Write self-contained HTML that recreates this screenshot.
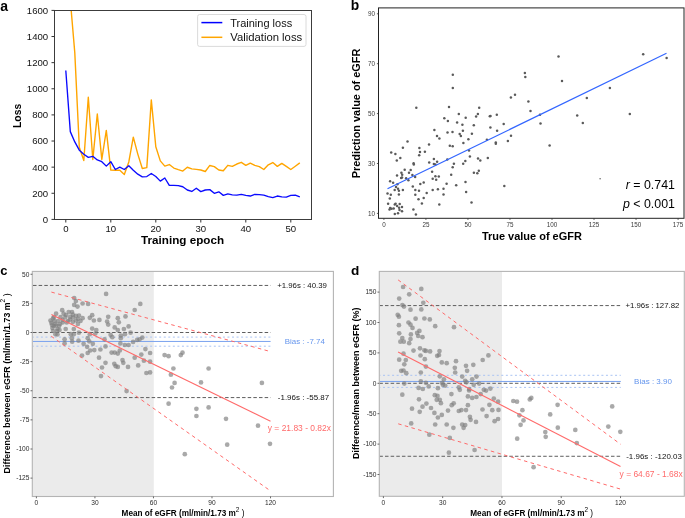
<!DOCTYPE html>
<html><head><meta charset="utf-8"><title>Figure</title>
<style>
html,body{margin:0;padding:0;background:#fff;}
body{width:685px;height:518px;overflow:hidden;}
svg{display:block;font-family:"Liberation Sans", sans-serif;will-change:transform;}
text{font-family:"Liberation Sans", sans-serif;}
</style></head>
<body>
<svg width="685" height="518" viewBox="0 0 685 518">
<rect width="685" height="518" fill="#fff"/>
<g id="pa">
<defs><clipPath id="ca"><rect x="54.5" y="10.5" width="257.0" height="209.0"/></clipPath></defs>
<g clip-path="url(#ca)">
<polyline points="65.80,-172.47 70.30,-0.18 74.80,52.85 79.30,147.30 83.80,160.49 88.30,97.27 92.80,159.44 97.30,113.99 101.80,159.44 106.30,130.44 110.80,170.15 115.30,170.29 119.80,170.29 124.30,174.47 128.80,161.93 133.30,137.11 137.80,154.09 142.30,168.46 146.80,167.67 151.30,99.88 155.80,146.77 160.30,160.88 164.80,166.11 169.30,164.54 173.80,168.06 178.30,169.63 182.80,171.07 187.30,167.28 191.80,168.85 196.30,169.37 200.80,170.02 205.30,171.46 209.80,165.45 214.30,166.63 218.80,170.02 223.30,170.81 227.80,165.32 232.30,166.37 236.80,164.02 241.30,162.32 245.80,165.32 250.30,163.10 254.80,165.32 259.30,166.63 263.80,169.50 268.30,164.80 272.80,162.58 277.30,166.37 281.80,163.36 286.30,166.37 290.80,169.50 295.30,166.24 299.80,162.84" fill="none" stroke="#ffa500" stroke-width="1.4" stroke-linejoin="round" />
<polyline points="65.80,70.49 70.30,131.62 74.80,141.94 79.30,150.17 83.80,154.22 88.30,157.35 92.80,156.31 97.30,159.97 101.80,161.66 106.30,166.11 110.80,161.66 115.30,169.50 119.80,167.15 124.30,169.50 128.80,165.71 133.30,170.29 137.80,174.20 142.30,176.82 146.80,176.56 151.30,173.55 155.80,176.56 160.30,181.13 164.80,177.99 169.30,185.31 173.80,185.31 178.30,185.57 182.80,186.74 187.30,190.01 191.80,191.45 196.30,188.31 200.80,191.58 205.30,190.01 209.80,189.62 214.30,193.28 218.80,191.84 223.30,195.37 227.80,193.93 232.30,194.84 236.80,195.10 241.30,194.32 245.80,195.37 250.30,196.02 254.80,194.32 259.30,194.58 263.80,195.10 268.30,196.54 272.80,197.59 277.30,196.02 281.80,196.93 286.30,197.06 290.80,195.37 295.30,195.23 299.80,196.93" fill="none" stroke="#0a0aff" stroke-width="1.35" stroke-linejoin="round" />
</g>
<rect x="54.5" y="10.5" width="257.0" height="209.0" fill="none" stroke="#3c3c3c" stroke-width="1"/>
<line x1="51.50" y1="219.40" x2="54.50" y2="219.40" stroke="#333" stroke-width="1" />
<text x="48.20" y="222.80" font-size="9.6" text-anchor="end" font-weight="normal" fill="#111" >0</text>
<line x1="51.50" y1="193.28" x2="54.50" y2="193.28" stroke="#333" stroke-width="1" />
<text x="48.20" y="196.68" font-size="9.6" text-anchor="end" font-weight="normal" fill="#111" >200</text>
<line x1="51.50" y1="167.15" x2="54.50" y2="167.15" stroke="#333" stroke-width="1" />
<text x="48.20" y="170.55" font-size="9.6" text-anchor="end" font-weight="normal" fill="#111" >400</text>
<line x1="51.50" y1="141.03" x2="54.50" y2="141.03" stroke="#333" stroke-width="1" />
<text x="48.20" y="144.43" font-size="9.6" text-anchor="end" font-weight="normal" fill="#111" >600</text>
<line x1="51.50" y1="114.90" x2="54.50" y2="114.90" stroke="#333" stroke-width="1" />
<text x="48.20" y="118.30" font-size="9.6" text-anchor="end" font-weight="normal" fill="#111" >800</text>
<line x1="51.50" y1="88.78" x2="54.50" y2="88.78" stroke="#333" stroke-width="1" />
<text x="48.20" y="92.18" font-size="9.6" text-anchor="end" font-weight="normal" fill="#111" >1000</text>
<line x1="51.50" y1="62.65" x2="54.50" y2="62.65" stroke="#333" stroke-width="1" />
<text x="48.20" y="66.05" font-size="9.6" text-anchor="end" font-weight="normal" fill="#111" >1200</text>
<line x1="51.50" y1="36.53" x2="54.50" y2="36.53" stroke="#333" stroke-width="1" />
<text x="48.20" y="39.93" font-size="9.6" text-anchor="end" font-weight="normal" fill="#111" >1400</text>
<line x1="51.50" y1="10.40" x2="54.50" y2="10.40" stroke="#333" stroke-width="1" />
<text x="48.20" y="13.80" font-size="9.6" text-anchor="end" font-weight="normal" fill="#111" >1600</text>
<line x1="65.80" y1="219.50" x2="65.80" y2="222.50" stroke="#333" stroke-width="1" />
<text x="65.80" y="232.20" font-size="9.6" text-anchor="middle" font-weight="normal" fill="#111" >0</text>
<line x1="110.80" y1="219.50" x2="110.80" y2="222.50" stroke="#333" stroke-width="1" />
<text x="110.80" y="232.20" font-size="9.6" text-anchor="middle" font-weight="normal" fill="#111" >10</text>
<line x1="155.80" y1="219.50" x2="155.80" y2="222.50" stroke="#333" stroke-width="1" />
<text x="155.80" y="232.20" font-size="9.6" text-anchor="middle" font-weight="normal" fill="#111" >20</text>
<line x1="200.80" y1="219.50" x2="200.80" y2="222.50" stroke="#333" stroke-width="1" />
<text x="200.80" y="232.20" font-size="9.6" text-anchor="middle" font-weight="normal" fill="#111" >30</text>
<line x1="245.80" y1="219.50" x2="245.80" y2="222.50" stroke="#333" stroke-width="1" />
<text x="245.80" y="232.20" font-size="9.6" text-anchor="middle" font-weight="normal" fill="#111" >40</text>
<line x1="290.80" y1="219.50" x2="290.80" y2="222.50" stroke="#333" stroke-width="1" />
<text x="290.80" y="232.20" font-size="9.6" text-anchor="middle" font-weight="normal" fill="#111" >50</text>
<text x="21.20" y="115.90" font-size="10.3" text-anchor="middle" font-weight="bold" fill="#000" transform="rotate(-90 21.20 115.90)" >Loss</text>
<text x="182.60" y="244.00" font-size="10.6" text-anchor="middle" font-weight="bold" fill="#000" textLength="83" lengthAdjust="spacingAndGlyphs" >Training epoch</text>
<text x="0.30" y="11.10" font-size="14" text-anchor="start" font-weight="bold" fill="#000" >a</text>
<rect x="197.6" y="14.5" width="108.4" height="31.9" rx="2" fill="#fff" stroke="#d6d6d6" stroke-width="0.9"/>
<line x1="201.40" y1="22.60" x2="222.30" y2="22.60" stroke="#0000ff" stroke-width="1.5" />
<line x1="201.40" y1="37.30" x2="222.30" y2="37.30" stroke="#ffa500" stroke-width="1.5" />
<text x="230.20" y="26.60" font-size="10" text-anchor="start" font-weight="normal" fill="#111" textLength="62" lengthAdjust="spacingAndGlyphs" >Training loss</text>
<text x="230.20" y="41.30" font-size="10" text-anchor="start" font-weight="normal" fill="#111" textLength="72" lengthAdjust="spacingAndGlyphs" >Validation loss</text>
</g>
<g id="pb">
<circle cx="396.8" cy="160.6" r="1.25" fill="#5a5a5a"/>
<circle cx="413.6" cy="163.2" r="1.25" fill="#5a5a5a"/>
<circle cx="413.8" cy="164.4" r="1.25" fill="#5a5a5a"/>
<circle cx="429.2" cy="162.5" r="1.25" fill="#5a5a5a"/>
<circle cx="433.9" cy="164.1" r="1.25" fill="#5a5a5a"/>
<circle cx="437.1" cy="161.7" r="1.25" fill="#5a5a5a"/>
<circle cx="404.7" cy="169.8" r="1.25" fill="#5a5a5a"/>
<circle cx="410.7" cy="170.1" r="1.25" fill="#5a5a5a"/>
<circle cx="401.4" cy="172.7" r="1.25" fill="#5a5a5a"/>
<circle cx="402.2" cy="174.8" r="1.25" fill="#5a5a5a"/>
<circle cx="409.0" cy="172.7" r="1.25" fill="#5a5a5a"/>
<circle cx="397.0" cy="175.4" r="1.25" fill="#5a5a5a"/>
<circle cx="412.4" cy="175.1" r="1.25" fill="#5a5a5a"/>
<circle cx="415.1" cy="177.1" r="1.25" fill="#5a5a5a"/>
<circle cx="401.1" cy="178.0" r="1.25" fill="#5a5a5a"/>
<circle cx="402.0" cy="177.4" r="1.25" fill="#5a5a5a"/>
<circle cx="406.1" cy="178.3" r="1.25" fill="#5a5a5a"/>
<circle cx="408.4" cy="180.3" r="1.25" fill="#5a5a5a"/>
<circle cx="432.1" cy="171.8" r="1.25" fill="#5a5a5a"/>
<circle cx="435.4" cy="176.2" r="1.25" fill="#5a5a5a"/>
<circle cx="438.8" cy="176.6" r="1.25" fill="#5a5a5a"/>
<circle cx="432.7" cy="178.8" r="1.25" fill="#5a5a5a"/>
<circle cx="436.2" cy="179.7" r="1.25" fill="#5a5a5a"/>
<circle cx="390.1" cy="181.2" r="1.25" fill="#5a5a5a"/>
<circle cx="393.1" cy="182.8" r="1.25" fill="#5a5a5a"/>
<circle cx="397.4" cy="184.3" r="1.25" fill="#5a5a5a"/>
<circle cx="420.3" cy="184.0" r="1.25" fill="#5a5a5a"/>
<circle cx="423.7" cy="182.6" r="1.25" fill="#5a5a5a"/>
<circle cx="396.0" cy="187.0" r="1.25" fill="#5a5a5a"/>
<circle cx="412.8" cy="186.6" r="1.25" fill="#5a5a5a"/>
<circle cx="398.0" cy="188.7" r="1.25" fill="#5a5a5a"/>
<circle cx="394.7" cy="190.1" r="1.25" fill="#5a5a5a"/>
<circle cx="398.9" cy="190.7" r="1.25" fill="#5a5a5a"/>
<circle cx="402.9" cy="189.9" r="1.25" fill="#5a5a5a"/>
<circle cx="415.3" cy="190.1" r="1.25" fill="#5a5a5a"/>
<circle cx="419.0" cy="190.7" r="1.25" fill="#5a5a5a"/>
<circle cx="432.7" cy="190.1" r="1.25" fill="#5a5a5a"/>
<circle cx="437.9" cy="189.2" r="1.25" fill="#5a5a5a"/>
<circle cx="387.5" cy="193.6" r="1.25" fill="#5a5a5a"/>
<circle cx="390.8" cy="194.8" r="1.25" fill="#5a5a5a"/>
<circle cx="398.9" cy="194.4" r="1.25" fill="#5a5a5a"/>
<circle cx="415.3" cy="194.8" r="1.25" fill="#5a5a5a"/>
<circle cx="426.7" cy="193.0" r="1.25" fill="#5a5a5a"/>
<circle cx="389.8" cy="198.6" r="1.25" fill="#5a5a5a"/>
<circle cx="418.5" cy="199.2" r="1.25" fill="#5a5a5a"/>
<circle cx="423.7" cy="198.0" r="1.25" fill="#5a5a5a"/>
<circle cx="388.1" cy="203.8" r="1.25" fill="#5a5a5a"/>
<circle cx="394.8" cy="204.4" r="1.25" fill="#5a5a5a"/>
<circle cx="395.6" cy="203.8" r="1.25" fill="#5a5a5a"/>
<circle cx="399.7" cy="204.0" r="1.25" fill="#5a5a5a"/>
<circle cx="421.9" cy="203.4" r="1.25" fill="#5a5a5a"/>
<circle cx="439.3" cy="204.4" r="1.25" fill="#5a5a5a"/>
<circle cx="397.1" cy="206.1" r="1.25" fill="#5a5a5a"/>
<circle cx="402.0" cy="206.9" r="1.25" fill="#5a5a5a"/>
<circle cx="390.2" cy="208.1" r="1.25" fill="#5a5a5a"/>
<circle cx="391.6" cy="208.7" r="1.25" fill="#5a5a5a"/>
<circle cx="393.7" cy="208.4" r="1.25" fill="#5a5a5a"/>
<circle cx="389.5" cy="209.6" r="1.25" fill="#5a5a5a"/>
<circle cx="399.1" cy="207.7" r="1.25" fill="#5a5a5a"/>
<circle cx="399.5" cy="210.0" r="1.25" fill="#5a5a5a"/>
<circle cx="402.0" cy="211.3" r="1.25" fill="#5a5a5a"/>
<circle cx="413.4" cy="209.6" r="1.25" fill="#5a5a5a"/>
<circle cx="394.8" cy="213.9" r="1.25" fill="#5a5a5a"/>
<circle cx="398.0" cy="213.3" r="1.25" fill="#5a5a5a"/>
<circle cx="415.9" cy="214.4" r="1.25" fill="#5a5a5a"/>
<circle cx="465.3" cy="160.9" r="1.25" fill="#5a5a5a"/>
<circle cx="480.3" cy="160.6" r="1.25" fill="#5a5a5a"/>
<circle cx="453.9" cy="163.8" r="1.25" fill="#5a5a5a"/>
<circle cx="463.2" cy="163.8" r="1.25" fill="#5a5a5a"/>
<circle cx="452.7" cy="167.2" r="1.25" fill="#5a5a5a"/>
<circle cx="473.9" cy="172.7" r="1.25" fill="#5a5a5a"/>
<circle cx="478.8" cy="170.7" r="1.25" fill="#5a5a5a"/>
<circle cx="477.3" cy="173.3" r="1.25" fill="#5a5a5a"/>
<circle cx="451.2" cy="174.8" r="1.25" fill="#5a5a5a"/>
<circle cx="446.6" cy="183.7" r="1.25" fill="#5a5a5a"/>
<circle cx="456.2" cy="185.3" r="1.25" fill="#5a5a5a"/>
<circle cx="465.5" cy="182.0" r="1.25" fill="#5a5a5a"/>
<circle cx="443.5" cy="188.7" r="1.25" fill="#5a5a5a"/>
<circle cx="443.5" cy="194.5" r="1.25" fill="#5a5a5a"/>
<circle cx="466.1" cy="191.9" r="1.25" fill="#5a5a5a"/>
<circle cx="471.5" cy="202.6" r="1.25" fill="#5a5a5a"/>
<circle cx="416.3" cy="107.8" r="1.25" fill="#5a5a5a"/>
<circle cx="434.4" cy="129.9" r="1.25" fill="#5a5a5a"/>
<circle cx="437.0" cy="135.9" r="1.25" fill="#5a5a5a"/>
<circle cx="439.4" cy="138.5" r="1.25" fill="#5a5a5a"/>
<circle cx="407.5" cy="141.5" r="1.25" fill="#5a5a5a"/>
<circle cx="429.0" cy="144.6" r="1.25" fill="#5a5a5a"/>
<circle cx="402.9" cy="147.8" r="1.25" fill="#5a5a5a"/>
<circle cx="419.4" cy="148.1" r="1.25" fill="#5a5a5a"/>
<circle cx="420.0" cy="151.9" r="1.25" fill="#5a5a5a"/>
<circle cx="424.9" cy="151.8" r="1.25" fill="#5a5a5a"/>
<circle cx="391.2" cy="152.4" r="1.25" fill="#5a5a5a"/>
<circle cx="395.4" cy="154.0" r="1.25" fill="#5a5a5a"/>
<circle cx="419.2" cy="155.3" r="1.25" fill="#5a5a5a"/>
<circle cx="400.3" cy="157.9" r="1.25" fill="#5a5a5a"/>
<circle cx="433.9" cy="159.1" r="1.25" fill="#5a5a5a"/>
<circle cx="449.0" cy="107.0" r="1.25" fill="#5a5a5a"/>
<circle cx="479.2" cy="107.8" r="1.25" fill="#5a5a5a"/>
<circle cx="458.8" cy="113.9" r="1.25" fill="#5a5a5a"/>
<circle cx="477.9" cy="114.1" r="1.25" fill="#5a5a5a"/>
<circle cx="476.1" cy="116.6" r="1.25" fill="#5a5a5a"/>
<circle cx="489.8" cy="116.2" r="1.25" fill="#5a5a5a"/>
<circle cx="490.5" cy="116.0" r="1.25" fill="#5a5a5a"/>
<circle cx="496.8" cy="114.8" r="1.25" fill="#5a5a5a"/>
<circle cx="444.3" cy="118.2" r="1.25" fill="#5a5a5a"/>
<circle cx="465.7" cy="117.7" r="1.25" fill="#5a5a5a"/>
<circle cx="447.9" cy="121.1" r="1.25" fill="#5a5a5a"/>
<circle cx="457.1" cy="122.4" r="1.25" fill="#5a5a5a"/>
<circle cx="462.4" cy="124.8" r="1.25" fill="#5a5a5a"/>
<circle cx="473.8" cy="125.3" r="1.25" fill="#5a5a5a"/>
<circle cx="490.4" cy="127.6" r="1.25" fill="#5a5a5a"/>
<circle cx="462.9" cy="130.7" r="1.25" fill="#5a5a5a"/>
<circle cx="497.1" cy="130.7" r="1.25" fill="#5a5a5a"/>
<circle cx="447.5" cy="132.4" r="1.25" fill="#5a5a5a"/>
<circle cx="452.5" cy="131.9" r="1.25" fill="#5a5a5a"/>
<circle cx="459.7" cy="133.9" r="1.25" fill="#5a5a5a"/>
<circle cx="460.9" cy="136.1" r="1.25" fill="#5a5a5a"/>
<circle cx="471.9" cy="133.8" r="1.25" fill="#5a5a5a"/>
<circle cx="468.4" cy="139.2" r="1.25" fill="#5a5a5a"/>
<circle cx="486.9" cy="139.7" r="1.25" fill="#5a5a5a"/>
<circle cx="463.4" cy="142.9" r="1.25" fill="#5a5a5a"/>
<circle cx="495.8" cy="142.6" r="1.25" fill="#5a5a5a"/>
<circle cx="495.8" cy="143.8" r="1.25" fill="#5a5a5a"/>
<circle cx="449.8" cy="145.8" r="1.25" fill="#5a5a5a"/>
<circle cx="452.7" cy="146.3" r="1.25" fill="#5a5a5a"/>
<circle cx="469.0" cy="150.4" r="1.25" fill="#5a5a5a"/>
<circle cx="469.9" cy="156.4" r="1.25" fill="#5a5a5a"/>
<circle cx="478.0" cy="158.5" r="1.25" fill="#5a5a5a"/>
<circle cx="487.8" cy="157.9" r="1.25" fill="#5a5a5a"/>
<circle cx="528.4" cy="101.4" r="1.25" fill="#5a5a5a"/>
<circle cx="530.5" cy="111.0" r="1.25" fill="#5a5a5a"/>
<circle cx="540.0" cy="114.8" r="1.25" fill="#5a5a5a"/>
<circle cx="503.7" cy="124.1" r="1.25" fill="#5a5a5a"/>
<circle cx="540.5" cy="123.5" r="1.25" fill="#5a5a5a"/>
<circle cx="511.0" cy="135.7" r="1.25" fill="#5a5a5a"/>
<circle cx="507.9" cy="141.1" r="1.25" fill="#5a5a5a"/>
<circle cx="549.6" cy="145.4" r="1.25" fill="#5a5a5a"/>
<circle cx="504.3" cy="186.1" r="1.25" fill="#5a5a5a"/>
<circle cx="452.8" cy="74.8" r="1.25" fill="#5a5a5a"/>
<circle cx="452.8" cy="87.9" r="1.25" fill="#5a5a5a"/>
<circle cx="515.0" cy="94.7" r="1.25" fill="#5a5a5a"/>
<circle cx="510.9" cy="97.6" r="1.25" fill="#5a5a5a"/>
<circle cx="558.5" cy="56.4" r="1.25" fill="#5a5a5a"/>
<circle cx="524.9" cy="72.9" r="1.25" fill="#5a5a5a"/>
<circle cx="525.3" cy="77.1" r="1.25" fill="#5a5a5a"/>
<circle cx="562.0" cy="80.9" r="1.25" fill="#5a5a5a"/>
<circle cx="586.8" cy="98.0" r="1.25" fill="#5a5a5a"/>
<circle cx="643.2" cy="54.2" r="1.25" fill="#5a5a5a"/>
<circle cx="666.6" cy="58.0" r="1.25" fill="#5a5a5a"/>
<circle cx="609.9" cy="88.0" r="1.25" fill="#5a5a5a"/>
<circle cx="447.3" cy="159.4" r="1.25" fill="#5a5a5a"/>
<circle cx="435.4" cy="164.4" r="1.25" fill="#5a5a5a"/>
<circle cx="577.2" cy="115.4" r="1.25" fill="#5a5a5a"/>
<circle cx="582.8" cy="123.0" r="1.25" fill="#5a5a5a"/>
<circle cx="629.8" cy="114.0" r="1.25" fill="#5a5a5a"/>
<circle cx="600.1" cy="178.8" r="0.7" fill="#555"/>
<line x1="387.50" y1="188.80" x2="666.50" y2="53.30" stroke="#3366ff" stroke-width="1.2" />
<rect x="378.5" y="7.9" width="305.5" height="210.4" fill="none" stroke="#222" stroke-width="1"/>
<line x1="376.90" y1="213.40" x2="378.50" y2="213.40" stroke="#333" stroke-width="0.8" />
<text x="375.00" y="215.70" font-size="6.3" text-anchor="end" font-weight="normal" fill="#3a3a3a" >10</text>
<line x1="376.90" y1="163.50" x2="378.50" y2="163.50" stroke="#333" stroke-width="0.8" />
<text x="375.00" y="165.80" font-size="6.3" text-anchor="end" font-weight="normal" fill="#3a3a3a" >30</text>
<line x1="376.90" y1="113.60" x2="378.50" y2="113.60" stroke="#333" stroke-width="0.8" />
<text x="375.00" y="115.90" font-size="6.3" text-anchor="end" font-weight="normal" fill="#3a3a3a" >50</text>
<line x1="376.90" y1="63.70" x2="378.50" y2="63.70" stroke="#333" stroke-width="0.8" />
<text x="375.00" y="66.00" font-size="6.3" text-anchor="end" font-weight="normal" fill="#3a3a3a" >70</text>
<line x1="376.90" y1="13.80" x2="378.50" y2="13.80" stroke="#333" stroke-width="0.8" />
<text x="375.00" y="16.10" font-size="6.3" text-anchor="end" font-weight="normal" fill="#3a3a3a" >90</text>
<line x1="383.90" y1="218.30" x2="383.90" y2="219.90" stroke="#333" stroke-width="0.8" />
<text x="383.90" y="226.80" font-size="6.3" text-anchor="middle" font-weight="normal" fill="#3a3a3a" >0</text>
<line x1="425.92" y1="218.30" x2="425.92" y2="219.90" stroke="#333" stroke-width="0.8" />
<text x="425.92" y="226.80" font-size="6.3" text-anchor="middle" font-weight="normal" fill="#3a3a3a" >25</text>
<line x1="467.95" y1="218.30" x2="467.95" y2="219.90" stroke="#333" stroke-width="0.8" />
<text x="467.95" y="226.80" font-size="6.3" text-anchor="middle" font-weight="normal" fill="#3a3a3a" >50</text>
<line x1="509.97" y1="218.30" x2="509.97" y2="219.90" stroke="#333" stroke-width="0.8" />
<text x="509.97" y="226.80" font-size="6.3" text-anchor="middle" font-weight="normal" fill="#3a3a3a" >75</text>
<line x1="552.00" y1="218.30" x2="552.00" y2="219.90" stroke="#333" stroke-width="0.8" />
<text x="552.00" y="226.80" font-size="6.3" text-anchor="middle" font-weight="normal" fill="#3a3a3a" >100</text>
<line x1="594.02" y1="218.30" x2="594.02" y2="219.90" stroke="#333" stroke-width="0.8" />
<text x="594.02" y="226.80" font-size="6.3" text-anchor="middle" font-weight="normal" fill="#3a3a3a" >125</text>
<line x1="636.05" y1="218.30" x2="636.05" y2="219.90" stroke="#333" stroke-width="0.8" />
<text x="636.05" y="226.80" font-size="6.3" text-anchor="middle" font-weight="normal" fill="#3a3a3a" >150</text>
<line x1="678.08" y1="218.30" x2="678.08" y2="219.90" stroke="#333" stroke-width="0.8" />
<text x="678.08" y="226.80" font-size="6.3" text-anchor="middle" font-weight="normal" fill="#3a3a3a" >175</text>
<text x="360.40" y="113.50" font-size="10.9" text-anchor="middle" font-weight="bold" fill="#000" transform="rotate(-90 360.40 113.50)" textLength="129.7" lengthAdjust="spacingAndGlyphs" >Prediction value of eGFR</text>
<text x="531.90" y="240.00" font-size="11" text-anchor="middle" font-weight="bold" fill="#000" textLength="100" lengthAdjust="spacingAndGlyphs" >True value of eGFR</text>
<text x="350.70" y="10.40" font-size="13.8" text-anchor="start" font-weight="bold" fill="#000" >b</text>
<text x="675" y="189.2" font-size="12.4" text-anchor="end" fill="#000"><tspan font-style="italic">r</tspan> = 0.741</text>
<text x="675" y="208" font-size="12.4" text-anchor="end" fill="#000"><tspan font-style="italic">p</tspan> &lt; 0.001</text>
</g>
<g id="pc">
<rect x="32.3" y="271.4" width="121.50000000000001" height="225.10000000000002" fill="#ebebeb"/>
<line x1="33.00" y1="285.45" x2="270.60" y2="285.45" stroke="#5e5e5e" stroke-width="1.0" stroke-dasharray="3.5 2.15"/>
<line x1="33.00" y1="332.50" x2="270.60" y2="332.50" stroke="#5e5e5e" stroke-width="1.0" stroke-dasharray="3.5 2.15"/>
<line x1="33.00" y1="397.59" x2="270.60" y2="397.59" stroke="#5e5e5e" stroke-width="1.0" stroke-dasharray="3.5 2.15"/>
<line x1="33.00" y1="341.45" x2="270.60" y2="341.45" stroke="#7aa2ee" stroke-width="1.0" />
<line x1="33.00" y1="337.10" x2="270.60" y2="337.10" stroke="#a9c3f3" stroke-width="1.0" stroke-dasharray="2.0 2.55" stroke-dashoffset="1.2"/>
<line x1="33.00" y1="346.20" x2="270.60" y2="346.20" stroke="#a9c3f3" stroke-width="1.0" stroke-dasharray="2.0 2.55" stroke-dashoffset="1.2"/>
<circle cx="106.1" cy="293.9" r="2.35" fill="rgba(128,128,128,0.68)"/>
<circle cx="74.2" cy="298.0" r="2.35" fill="rgba(128,128,128,0.68)"/>
<circle cx="75.9" cy="301.1" r="2.35" fill="rgba(128,128,128,0.68)"/>
<circle cx="74.2" cy="304.9" r="2.35" fill="rgba(128,128,128,0.68)"/>
<circle cx="77.5" cy="306.6" r="2.35" fill="rgba(128,128,128,0.68)"/>
<circle cx="82.6" cy="303.5" r="2.35" fill="rgba(128,128,128,0.68)"/>
<circle cx="88.1" cy="303.9" r="2.35" fill="rgba(128,128,128,0.68)"/>
<circle cx="140.3" cy="303.9" r="2.35" fill="rgba(128,128,128,0.68)"/>
<circle cx="134.7" cy="310.0" r="2.35" fill="rgba(128,128,128,0.68)"/>
<circle cx="62.2" cy="310.2" r="2.35" fill="rgba(128,128,128,0.68)"/>
<circle cx="56.1" cy="313.7" r="2.35" fill="rgba(128,128,128,0.68)"/>
<circle cx="63.6" cy="313.7" r="2.35" fill="rgba(128,128,128,0.68)"/>
<circle cx="68.7" cy="312.1" r="2.35" fill="rgba(128,128,128,0.68)"/>
<circle cx="72.8" cy="314.7" r="2.35" fill="rgba(128,128,128,0.68)"/>
<circle cx="75.9" cy="315.8" r="2.35" fill="rgba(128,128,128,0.68)"/>
<circle cx="53.0" cy="318.4" r="2.35" fill="rgba(128,128,128,0.68)"/>
<circle cx="60.5" cy="317.2" r="2.35" fill="rgba(128,128,128,0.68)"/>
<circle cx="65.2" cy="317.4" r="2.35" fill="rgba(128,128,128,0.68)"/>
<circle cx="70.2" cy="316.8" r="2.35" fill="rgba(128,128,128,0.68)"/>
<circle cx="77.9" cy="318.8" r="2.35" fill="rgba(128,128,128,0.68)"/>
<circle cx="82.6" cy="318.2" r="2.35" fill="rgba(128,128,128,0.68)"/>
<circle cx="89.8" cy="317.8" r="2.35" fill="rgba(128,128,128,0.68)"/>
<circle cx="92.2" cy="315.2" r="2.35" fill="rgba(128,128,128,0.68)"/>
<circle cx="93.9" cy="320.5" r="2.35" fill="rgba(128,128,128,0.68)"/>
<circle cx="99.4" cy="319.9" r="2.35" fill="rgba(128,128,128,0.68)"/>
<circle cx="108.2" cy="316.8" r="2.35" fill="rgba(128,128,128,0.68)"/>
<circle cx="107.1" cy="321.5" r="2.35" fill="rgba(128,128,128,0.68)"/>
<circle cx="108.2" cy="324.6" r="2.35" fill="rgba(128,128,128,0.68)"/>
<circle cx="117.8" cy="318.2" r="2.35" fill="rgba(128,128,128,0.68)"/>
<circle cx="118.8" cy="322.3" r="2.35" fill="rgba(128,128,128,0.68)"/>
<circle cx="125.5" cy="316.4" r="2.35" fill="rgba(128,128,128,0.68)"/>
<circle cx="51.4" cy="322.9" r="2.35" fill="rgba(128,128,128,0.68)"/>
<circle cx="55.4" cy="323.9" r="2.35" fill="rgba(128,128,128,0.68)"/>
<circle cx="62.6" cy="322.5" r="2.35" fill="rgba(128,128,128,0.68)"/>
<circle cx="66.7" cy="322.5" r="2.35" fill="rgba(128,128,128,0.68)"/>
<circle cx="72.8" cy="321.9" r="2.35" fill="rgba(128,128,128,0.68)"/>
<circle cx="77.9" cy="323.9" r="2.35" fill="rgba(128,128,128,0.68)"/>
<circle cx="52.4" cy="328.0" r="2.35" fill="rgba(128,128,128,0.68)"/>
<circle cx="57.5" cy="329.0" r="2.35" fill="rgba(128,128,128,0.68)"/>
<circle cx="55.4" cy="334.2" r="2.35" fill="rgba(128,128,128,0.68)"/>
<circle cx="73.8" cy="329.0" r="2.35" fill="rgba(128,128,128,0.68)"/>
<circle cx="78.9" cy="332.7" r="2.35" fill="rgba(128,128,128,0.68)"/>
<circle cx="73.8" cy="334.2" r="2.35" fill="rgba(128,128,128,0.68)"/>
<circle cx="70.8" cy="334.2" r="2.35" fill="rgba(128,128,128,0.68)"/>
<circle cx="92.2" cy="328.6" r="2.35" fill="rgba(128,128,128,0.68)"/>
<circle cx="96.3" cy="330.1" r="2.35" fill="rgba(128,128,128,0.68)"/>
<circle cx="95.3" cy="333.5" r="2.35" fill="rgba(128,128,128,0.68)"/>
<circle cx="89.8" cy="334.2" r="2.35" fill="rgba(128,128,128,0.68)"/>
<circle cx="114.7" cy="327.4" r="2.35" fill="rgba(128,128,128,0.68)"/>
<circle cx="117.8" cy="330.1" r="2.35" fill="rgba(128,128,128,0.68)"/>
<circle cx="123.9" cy="329.0" r="2.35" fill="rgba(128,128,128,0.68)"/>
<circle cx="128.6" cy="326.4" r="2.35" fill="rgba(128,128,128,0.68)"/>
<circle cx="110.6" cy="334.8" r="2.35" fill="rgba(128,128,128,0.68)"/>
<circle cx="112.3" cy="337.2" r="2.35" fill="rgba(128,128,128,0.68)"/>
<circle cx="120.8" cy="335.6" r="2.35" fill="rgba(128,128,128,0.68)"/>
<circle cx="120.8" cy="338.2" r="2.35" fill="rgba(128,128,128,0.68)"/>
<circle cx="124.9" cy="334.2" r="2.35" fill="rgba(128,128,128,0.68)"/>
<circle cx="130.6" cy="332.7" r="2.35" fill="rgba(128,128,128,0.68)"/>
<circle cx="64.6" cy="339.3" r="2.35" fill="rgba(128,128,128,0.68)"/>
<circle cx="64.6" cy="343.4" r="2.35" fill="rgba(128,128,128,0.68)"/>
<circle cx="71.8" cy="338.2" r="2.35" fill="rgba(128,128,128,0.68)"/>
<circle cx="72.2" cy="341.7" r="2.35" fill="rgba(128,128,128,0.68)"/>
<circle cx="78.5" cy="340.7" r="2.35" fill="rgba(128,128,128,0.68)"/>
<circle cx="87.7" cy="338.2" r="2.35" fill="rgba(128,128,128,0.68)"/>
<circle cx="89.2" cy="341.3" r="2.35" fill="rgba(128,128,128,0.68)"/>
<circle cx="83.6" cy="343.8" r="2.35" fill="rgba(128,128,128,0.68)"/>
<circle cx="92.8" cy="343.8" r="2.35" fill="rgba(128,128,128,0.68)"/>
<circle cx="104.5" cy="339.3" r="2.35" fill="rgba(128,128,128,0.68)"/>
<circle cx="120.4" cy="343.4" r="2.35" fill="rgba(128,128,128,0.68)"/>
<circle cx="124.9" cy="345.0" r="2.35" fill="rgba(128,128,128,0.68)"/>
<circle cx="128.6" cy="345.0" r="2.35" fill="rgba(128,128,128,0.68)"/>
<circle cx="133.1" cy="341.9" r="2.35" fill="rgba(128,128,128,0.68)"/>
<circle cx="137.2" cy="339.9" r="2.35" fill="rgba(128,128,128,0.68)"/>
<circle cx="139.6" cy="339.3" r="2.35" fill="rgba(128,128,128,0.68)"/>
<circle cx="142.3" cy="337.6" r="2.35" fill="rgba(128,128,128,0.68)"/>
<circle cx="87.1" cy="346.8" r="2.35" fill="rgba(128,128,128,0.68)"/>
<circle cx="90.2" cy="350.5" r="2.35" fill="rgba(128,128,128,0.68)"/>
<circle cx="94.3" cy="350.1" r="2.35" fill="rgba(128,128,128,0.68)"/>
<circle cx="105.5" cy="346.4" r="2.35" fill="rgba(128,128,128,0.68)"/>
<circle cx="100.4" cy="349.5" r="2.35" fill="rgba(128,128,128,0.68)"/>
<circle cx="87.7" cy="353.0" r="2.35" fill="rgba(128,128,128,0.68)"/>
<circle cx="82.0" cy="355.6" r="2.35" fill="rgba(128,128,128,0.68)"/>
<circle cx="111.6" cy="352.6" r="2.35" fill="rgba(128,128,128,0.68)"/>
<circle cx="114.7" cy="352.6" r="2.35" fill="rgba(128,128,128,0.68)"/>
<circle cx="117.8" cy="353.6" r="2.35" fill="rgba(128,128,128,0.68)"/>
<circle cx="119.8" cy="350.5" r="2.35" fill="rgba(128,128,128,0.68)"/>
<circle cx="145.4" cy="349.1" r="2.35" fill="rgba(128,128,128,0.68)"/>
<circle cx="150.1" cy="353.0" r="2.35" fill="rgba(128,128,128,0.68)"/>
<circle cx="141.3" cy="354.6" r="2.35" fill="rgba(128,128,128,0.68)"/>
<circle cx="134.7" cy="357.7" r="2.35" fill="rgba(128,128,128,0.68)"/>
<circle cx="99.0" cy="357.7" r="2.35" fill="rgba(128,128,128,0.68)"/>
<circle cx="143.9" cy="360.7" r="2.35" fill="rgba(128,128,128,0.68)"/>
<circle cx="150.1" cy="361.7" r="2.35" fill="rgba(128,128,128,0.68)"/>
<circle cx="105.5" cy="362.8" r="2.35" fill="rgba(128,128,128,0.68)"/>
<circle cx="122.5" cy="360.1" r="2.35" fill="rgba(128,128,128,0.68)"/>
<circle cx="123.3" cy="362.8" r="2.35" fill="rgba(128,128,128,0.68)"/>
<circle cx="114.3" cy="363.8" r="2.35" fill="rgba(128,128,128,0.68)"/>
<circle cx="115.7" cy="366.2" r="2.35" fill="rgba(128,128,128,0.68)"/>
<circle cx="117.8" cy="366.9" r="2.35" fill="rgba(128,128,128,0.68)"/>
<circle cx="128.0" cy="366.9" r="2.35" fill="rgba(128,128,128,0.68)"/>
<circle cx="138.2" cy="365.4" r="2.35" fill="rgba(128,128,128,0.68)"/>
<circle cx="102.0" cy="367.5" r="2.35" fill="rgba(128,128,128,0.68)"/>
<circle cx="146.4" cy="373.0" r="2.35" fill="rgba(128,128,128,0.68)"/>
<circle cx="150.1" cy="372.4" r="2.35" fill="rgba(128,128,128,0.68)"/>
<circle cx="101.0" cy="376.1" r="2.35" fill="rgba(128,128,128,0.68)"/>
<circle cx="126.6" cy="391.1" r="2.35" fill="rgba(128,128,128,0.68)"/>
<circle cx="54.4" cy="320.9" r="2.35" fill="rgba(128,128,128,0.68)"/>
<circle cx="59.1" cy="326.0" r="2.35" fill="rgba(128,128,128,0.68)"/>
<circle cx="59.5" cy="330.1" r="2.35" fill="rgba(128,128,128,0.68)"/>
<circle cx="53.8" cy="326.0" r="2.35" fill="rgba(128,128,128,0.68)"/>
<circle cx="65.7" cy="329.0" r="2.35" fill="rgba(128,128,128,0.68)"/>
<circle cx="52.0" cy="325.0" r="2.35" fill="rgba(128,128,128,0.68)"/>
<circle cx="56.0" cy="325.5" r="2.35" fill="rgba(128,128,128,0.68)"/>
<circle cx="57.0" cy="331.0" r="2.35" fill="rgba(128,128,128,0.68)"/>
<circle cx="60.0" cy="324.0" r="2.35" fill="rgba(128,128,128,0.68)"/>
<circle cx="53.0" cy="331.0" r="2.35" fill="rgba(128,128,128,0.68)"/>
<circle cx="58.0" cy="321.0" r="2.35" fill="rgba(128,128,128,0.68)"/>
<circle cx="54.0" cy="317.0" r="2.35" fill="rgba(128,128,128,0.68)"/>
<circle cx="50.5" cy="320.5" r="2.35" fill="rgba(128,128,128,0.68)"/>
<circle cx="66.0" cy="315.0" r="2.35" fill="rgba(128,128,128,0.68)"/>
<circle cx="70.0" cy="319.5" r="2.35" fill="rgba(128,128,128,0.68)"/>
<circle cx="73.0" cy="317.5" r="2.35" fill="rgba(128,128,128,0.68)"/>
<circle cx="76.0" cy="320.5" r="2.35" fill="rgba(128,128,128,0.68)"/>
<circle cx="79.0" cy="315.5" r="2.35" fill="rgba(128,128,128,0.68)"/>
<circle cx="68.0" cy="321.0" r="2.35" fill="rgba(128,128,128,0.68)"/>
<circle cx="72.0" cy="312.0" r="2.35" fill="rgba(128,128,128,0.68)"/>
<circle cx="80.5" cy="321.0" r="2.35" fill="rgba(128,128,128,0.68)"/>
<circle cx="62.5" cy="320.0" r="2.35" fill="rgba(128,128,128,0.68)"/>
<circle cx="57.5" cy="334.5" r="2.35" fill="rgba(128,128,128,0.68)"/>
<circle cx="164.6" cy="355.1" r="2.35" fill="rgba(128,128,128,0.68)"/>
<circle cx="168.6" cy="356.2" r="2.35" fill="rgba(128,128,128,0.68)"/>
<circle cx="180.8" cy="355.1" r="2.35" fill="rgba(128,128,128,0.68)"/>
<circle cx="182.5" cy="352.7" r="2.35" fill="rgba(128,128,128,0.68)"/>
<circle cx="173.4" cy="368.5" r="2.35" fill="rgba(128,128,128,0.68)"/>
<circle cx="170.9" cy="374.7" r="2.35" fill="rgba(128,128,128,0.68)"/>
<circle cx="174.6" cy="382.9" r="2.35" fill="rgba(128,128,128,0.68)"/>
<circle cx="172.0" cy="387.5" r="2.35" fill="rgba(128,128,128,0.68)"/>
<circle cx="208.6" cy="368.5" r="2.35" fill="rgba(128,128,128,0.68)"/>
<circle cx="201.0" cy="382.4" r="2.35" fill="rgba(128,128,128,0.68)"/>
<circle cx="261.9" cy="382.9" r="2.35" fill="rgba(128,128,128,0.68)"/>
<circle cx="168.6" cy="403.7" r="2.35" fill="rgba(128,128,128,0.68)"/>
<circle cx="196.4" cy="408.8" r="2.35" fill="rgba(128,128,128,0.68)"/>
<circle cx="208.6" cy="407.4" r="2.35" fill="rgba(128,128,128,0.68)"/>
<circle cx="196.4" cy="416.0" r="2.35" fill="rgba(128,128,128,0.68)"/>
<circle cx="226.0" cy="418.8" r="2.35" fill="rgba(128,128,128,0.68)"/>
<circle cx="258.0" cy="425.7" r="2.35" fill="rgba(128,128,128,0.68)"/>
<circle cx="227.2" cy="444.7" r="2.35" fill="rgba(128,128,128,0.68)"/>
<circle cx="270.0" cy="443.8" r="2.35" fill="rgba(128,128,128,0.68)"/>
<circle cx="184.8" cy="454.2" r="2.35" fill="rgba(128,128,128,0.68)"/>
<line x1="51.40" y1="314.40" x2="270.50" y2="421.25" stroke="#ff6a6a" stroke-width="1.1" />
<line x1="51.40" y1="292.10" x2="270.60" y2="351.60" stroke="#ff6a6a" stroke-width="1.0" stroke-dasharray="3.5 3.4"/>
<line x1="51.20" y1="336.20" x2="270.50" y2="490.90" stroke="#ff6a6a" stroke-width="1.0" stroke-dasharray="3.5 3.4"/>
<rect x="32.3" y="271.4" width="301.09999999999997" height="225.10000000000002" fill="none" stroke="#b4b4b4" stroke-width="1.1"/>
<line x1="30.50" y1="274.25" x2="32.30" y2="274.25" stroke="#444" stroke-width="0.8" />
<text x="29.40" y="276.55" font-size="6.6" text-anchor="end" font-weight="normal" fill="#2a2a2a" >50</text>
<line x1="30.50" y1="303.38" x2="32.30" y2="303.38" stroke="#444" stroke-width="0.8" />
<text x="29.40" y="305.68" font-size="6.6" text-anchor="end" font-weight="normal" fill="#2a2a2a" >25</text>
<line x1="30.50" y1="332.50" x2="32.30" y2="332.50" stroke="#444" stroke-width="0.8" />
<text x="29.40" y="334.80" font-size="6.6" text-anchor="end" font-weight="normal" fill="#2a2a2a" >0</text>
<line x1="30.50" y1="361.62" x2="32.30" y2="361.62" stroke="#444" stroke-width="0.8" />
<text x="29.40" y="363.93" font-size="6.6" text-anchor="end" font-weight="normal" fill="#2a2a2a" >-25</text>
<line x1="30.50" y1="390.75" x2="32.30" y2="390.75" stroke="#444" stroke-width="0.8" />
<text x="29.40" y="393.05" font-size="6.6" text-anchor="end" font-weight="normal" fill="#2a2a2a" >-50</text>
<line x1="30.50" y1="419.88" x2="32.30" y2="419.88" stroke="#444" stroke-width="0.8" />
<text x="29.40" y="422.18" font-size="6.6" text-anchor="end" font-weight="normal" fill="#2a2a2a" >-75</text>
<line x1="30.50" y1="449.00" x2="32.30" y2="449.00" stroke="#444" stroke-width="0.8" />
<text x="29.40" y="451.30" font-size="6.6" text-anchor="end" font-weight="normal" fill="#2a2a2a" >-100</text>
<line x1="30.50" y1="478.12" x2="32.30" y2="478.12" stroke="#444" stroke-width="0.8" />
<text x="29.40" y="480.43" font-size="6.6" text-anchor="end" font-weight="normal" fill="#2a2a2a" >-125</text>
<line x1="36.40" y1="496.50" x2="36.40" y2="498.30" stroke="#444" stroke-width="0.8" />
<text x="36.40" y="505.10" font-size="6.6" text-anchor="middle" font-weight="normal" fill="#2a2a2a" >0</text>
<line x1="94.93" y1="496.50" x2="94.93" y2="498.30" stroke="#444" stroke-width="0.8" />
<text x="94.93" y="505.10" font-size="6.6" text-anchor="middle" font-weight="normal" fill="#2a2a2a" >30</text>
<line x1="153.46" y1="496.50" x2="153.46" y2="498.30" stroke="#444" stroke-width="0.8" />
<text x="153.46" y="505.10" font-size="6.6" text-anchor="middle" font-weight="normal" fill="#2a2a2a" >60</text>
<line x1="211.99" y1="496.50" x2="211.99" y2="498.30" stroke="#444" stroke-width="0.8" />
<text x="211.99" y="505.10" font-size="6.6" text-anchor="middle" font-weight="normal" fill="#2a2a2a" >90</text>
<line x1="270.52" y1="496.50" x2="270.52" y2="498.30" stroke="#444" stroke-width="0.8" />
<text x="270.52" y="505.10" font-size="6.6" text-anchor="middle" font-weight="normal" fill="#2a2a2a" >120</text>
<text x="277.20" y="288.35" font-size="7.9" text-anchor="start" font-weight="normal" fill="#111" textLength="49.7" lengthAdjust="spacingAndGlyphs" >+1.96s : 40.39</text>
<text x="284.80" y="344.40" font-size="7.9" text-anchor="start" font-weight="normal" fill="#6495ed" textLength="40" lengthAdjust="spacingAndGlyphs" >Bias : -7.74</text>
<text x="277.80" y="400.00" font-size="7.9" text-anchor="start" font-weight="normal" fill="#111" textLength="51.4" lengthAdjust="spacingAndGlyphs" >-1.96s : -55.87</text>
<text x="267.80" y="431.20" font-size="8.5" text-anchor="start" font-weight="normal" fill="#ff6a6a" textLength="63.2" lengthAdjust="spacingAndGlyphs" >y = 21.83 - 0.82x</text>
<text x="9.6" y="383.4" font-size="8.85" font-weight="bold" text-anchor="middle" transform="rotate(-90 9.6 383.4)">Difference between eGFR (ml/min/1.73 m<tspan dy="-4.4" font-size="6.4" font-weight="normal">2</tspan><tspan dy="4.4" font-weight="normal"> )</tspan></text>
<text x="183" y="516.1" font-size="8.2" font-weight="bold" text-anchor="middle">Mean of eGFR (ml/min/1.73 m<tspan dy="-3.7" font-size="6.4" font-weight="normal">2</tspan><tspan dy="3.7" font-weight="normal"> )</tspan></text>
<text x="0.20" y="274.90" font-size="13" text-anchor="start" font-weight="bold" fill="#000" >c</text>
</g>
<g id="pd">
<rect x="379.3" y="271.4" width="122.69999999999999" height="224.90000000000003" fill="#ebebeb"/>
<line x1="379.80" y1="305.59" x2="620.80" y2="305.59" stroke="#5e5e5e" stroke-width="1.0" stroke-dasharray="3.5 2.15" stroke-dashoffset="0.45"/>
<line x1="379.80" y1="383.30" x2="620.80" y2="383.30" stroke="#5e5e5e" stroke-width="1.0" stroke-dasharray="3.5 2.15" stroke-dashoffset="0.45"/>
<line x1="379.80" y1="456.28" x2="620.80" y2="456.28" stroke="#5e5e5e" stroke-width="1.0" stroke-dasharray="3.5 2.15" stroke-dashoffset="0.45"/>
<line x1="379.80" y1="381.45" x2="620.80" y2="381.45" stroke="#7aa2ee" stroke-width="1.0" />
<line x1="379.80" y1="375.30" x2="620.80" y2="375.30" stroke="#a9c3f3" stroke-width="1.0" stroke-dasharray="2.0 2.55" stroke-dashoffset="1.35"/>
<line x1="379.80" y1="387.40" x2="620.80" y2="387.40" stroke="#a9c3f3" stroke-width="1.0" stroke-dasharray="2.0 2.55" stroke-dashoffset="1.35"/>
<circle cx="403.1" cy="287.0" r="2.35" fill="rgba(128,128,128,0.68)"/>
<circle cx="421.3" cy="288.9" r="2.35" fill="rgba(128,128,128,0.68)"/>
<circle cx="409.2" cy="294.3" r="2.35" fill="rgba(128,128,128,0.68)"/>
<circle cx="399.2" cy="298.6" r="2.35" fill="rgba(128,128,128,0.68)"/>
<circle cx="423.3" cy="302.8" r="2.35" fill="rgba(128,128,128,0.68)"/>
<circle cx="402.4" cy="305.1" r="2.35" fill="rgba(128,128,128,0.68)"/>
<circle cx="404.0" cy="306.6" r="2.35" fill="rgba(128,128,128,0.68)"/>
<circle cx="410.5" cy="309.7" r="2.35" fill="rgba(128,128,128,0.68)"/>
<circle cx="421.3" cy="309.4" r="2.35" fill="rgba(128,128,128,0.68)"/>
<circle cx="397.7" cy="314.8" r="2.35" fill="rgba(128,128,128,0.68)"/>
<circle cx="398.9" cy="316.7" r="2.35" fill="rgba(128,128,128,0.68)"/>
<circle cx="415.6" cy="318.7" r="2.35" fill="rgba(128,128,128,0.68)"/>
<circle cx="424.4" cy="318.5" r="2.35" fill="rgba(128,128,128,0.68)"/>
<circle cx="429.8" cy="319.4" r="2.35" fill="rgba(128,128,128,0.68)"/>
<circle cx="398.9" cy="325.2" r="2.35" fill="rgba(128,128,128,0.68)"/>
<circle cx="408.5" cy="322.5" r="2.35" fill="rgba(128,128,128,0.68)"/>
<circle cx="410.5" cy="324.7" r="2.35" fill="rgba(128,128,128,0.68)"/>
<circle cx="412.5" cy="327.9" r="2.35" fill="rgba(128,128,128,0.68)"/>
<circle cx="435.2" cy="326.2" r="2.35" fill="rgba(128,128,128,0.68)"/>
<circle cx="454.0" cy="327.2" r="2.35" fill="rgba(128,128,128,0.68)"/>
<circle cx="399.2" cy="333.3" r="2.35" fill="rgba(128,128,128,0.68)"/>
<circle cx="410.9" cy="334.4" r="2.35" fill="rgba(128,128,128,0.68)"/>
<circle cx="417.1" cy="332.9" r="2.35" fill="rgba(128,128,128,0.68)"/>
<circle cx="419.4" cy="330.9" r="2.35" fill="rgba(128,128,128,0.68)"/>
<circle cx="418.2" cy="336.0" r="2.35" fill="rgba(128,128,128,0.68)"/>
<circle cx="422.5" cy="337.2" r="2.35" fill="rgba(128,128,128,0.68)"/>
<circle cx="402.3" cy="338.0" r="2.35" fill="rgba(128,128,128,0.68)"/>
<circle cx="400.4" cy="341.7" r="2.35" fill="rgba(128,128,128,0.68)"/>
<circle cx="403.8" cy="341.7" r="2.35" fill="rgba(128,128,128,0.68)"/>
<circle cx="410.5" cy="339.0" r="2.35" fill="rgba(128,128,128,0.68)"/>
<circle cx="409.2" cy="343.2" r="2.35" fill="rgba(128,128,128,0.68)"/>
<circle cx="413.5" cy="350.6" r="2.35" fill="rgba(128,128,128,0.68)"/>
<circle cx="420.0" cy="348.3" r="2.35" fill="rgba(128,128,128,0.68)"/>
<circle cx="424.4" cy="350.3" r="2.35" fill="rgba(128,128,128,0.68)"/>
<circle cx="425.9" cy="350.9" r="2.35" fill="rgba(128,128,128,0.68)"/>
<circle cx="430.1" cy="351.4" r="2.35" fill="rgba(128,128,128,0.68)"/>
<circle cx="439.5" cy="351.1" r="2.35" fill="rgba(128,128,128,0.68)"/>
<circle cx="403.5" cy="353.7" r="2.35" fill="rgba(128,128,128,0.68)"/>
<circle cx="420.5" cy="355.5" r="2.35" fill="rgba(128,128,128,0.68)"/>
<circle cx="437.2" cy="355.8" r="2.35" fill="rgba(128,128,128,0.68)"/>
<circle cx="439.0" cy="355.0" r="2.35" fill="rgba(128,128,128,0.68)"/>
<circle cx="399.2" cy="359.7" r="2.35" fill="rgba(128,128,128,0.68)"/>
<circle cx="405.8" cy="360.0" r="2.35" fill="rgba(128,128,128,0.68)"/>
<circle cx="424.8" cy="359.2" r="2.35" fill="rgba(128,128,128,0.68)"/>
<circle cx="404.3" cy="364.3" r="2.35" fill="rgba(128,128,128,0.68)"/>
<circle cx="441.8" cy="362.4" r="2.35" fill="rgba(128,128,128,0.68)"/>
<circle cx="446.7" cy="363.2" r="2.35" fill="rgba(128,128,128,0.68)"/>
<circle cx="456.0" cy="361.2" r="2.35" fill="rgba(128,128,128,0.68)"/>
<circle cx="425.9" cy="366.6" r="2.35" fill="rgba(128,128,128,0.68)"/>
<circle cx="466.0" cy="365.8" r="2.35" fill="rgba(128,128,128,0.68)"/>
<circle cx="473.3" cy="364.8" r="2.35" fill="rgba(128,128,128,0.68)"/>
<circle cx="482.7" cy="360.0" r="2.35" fill="rgba(128,128,128,0.68)"/>
<circle cx="401.2" cy="370.8" r="2.35" fill="rgba(128,128,128,0.68)"/>
<circle cx="403.5" cy="370.5" r="2.35" fill="rgba(128,128,128,0.68)"/>
<circle cx="406.3" cy="373.2" r="2.35" fill="rgba(128,128,128,0.68)"/>
<circle cx="420.8" cy="372.5" r="2.35" fill="rgba(128,128,128,0.68)"/>
<circle cx="454.8" cy="367.8" r="2.35" fill="rgba(128,128,128,0.68)"/>
<circle cx="467.1" cy="370.8" r="2.35" fill="rgba(128,128,128,0.68)"/>
<circle cx="455.2" cy="372.5" r="2.35" fill="rgba(128,128,128,0.68)"/>
<circle cx="439.8" cy="376.3" r="2.35" fill="rgba(128,128,128,0.68)"/>
<circle cx="443.9" cy="379.3" r="2.35" fill="rgba(128,128,128,0.68)"/>
<circle cx="462.2" cy="376.6" r="2.35" fill="rgba(128,128,128,0.68)"/>
<circle cx="472.2" cy="379.3" r="2.35" fill="rgba(128,128,128,0.68)"/>
<circle cx="476.5" cy="376.6" r="2.35" fill="rgba(128,128,128,0.68)"/>
<circle cx="420.8" cy="381.3" r="2.35" fill="rgba(128,128,128,0.68)"/>
<circle cx="425.9" cy="382.8" r="2.35" fill="rgba(128,128,128,0.68)"/>
<circle cx="404.3" cy="383.6" r="2.35" fill="rgba(128,128,128,0.68)"/>
<circle cx="442.1" cy="382.8" r="2.35" fill="rgba(128,128,128,0.68)"/>
<circle cx="442.9" cy="384.8" r="2.35" fill="rgba(128,128,128,0.68)"/>
<circle cx="445.2" cy="385.6" r="2.35" fill="rgba(128,128,128,0.68)"/>
<circle cx="465.2" cy="380.8" r="2.35" fill="rgba(128,128,128,0.68)"/>
<circle cx="466.5" cy="382.3" r="2.35" fill="rgba(128,128,128,0.68)"/>
<circle cx="473.7" cy="384.8" r="2.35" fill="rgba(128,128,128,0.68)"/>
<circle cx="479.1" cy="383.6" r="2.35" fill="rgba(128,128,128,0.68)"/>
<circle cx="418.6" cy="387.9" r="2.35" fill="rgba(128,128,128,0.68)"/>
<circle cx="422.8" cy="389.0" r="2.35" fill="rgba(128,128,128,0.68)"/>
<circle cx="428.7" cy="386.4" r="2.35" fill="rgba(128,128,128,0.68)"/>
<circle cx="437.9" cy="388.2" r="2.35" fill="rgba(128,128,128,0.68)"/>
<circle cx="458.8" cy="387.4" r="2.35" fill="rgba(128,128,128,0.68)"/>
<circle cx="459.8" cy="389.8" r="2.35" fill="rgba(128,128,128,0.68)"/>
<circle cx="469.1" cy="389.0" r="2.35" fill="rgba(128,128,128,0.68)"/>
<circle cx="469.1" cy="390.5" r="2.35" fill="rgba(128,128,128,0.68)"/>
<circle cx="483.8" cy="389.8" r="2.35" fill="rgba(128,128,128,0.68)"/>
<circle cx="402.3" cy="394.7" r="2.35" fill="rgba(128,128,128,0.68)"/>
<circle cx="434.8" cy="395.2" r="2.35" fill="rgba(128,128,128,0.68)"/>
<circle cx="437.5" cy="395.9" r="2.35" fill="rgba(128,128,128,0.68)"/>
<circle cx="451.4" cy="394.1" r="2.35" fill="rgba(128,128,128,0.68)"/>
<circle cx="480.7" cy="394.1" r="2.35" fill="rgba(128,128,128,0.68)"/>
<circle cx="467.9" cy="396.4" r="2.35" fill="rgba(128,128,128,0.68)"/>
<circle cx="472.2" cy="397.9" r="2.35" fill="rgba(128,128,128,0.68)"/>
<circle cx="476.4" cy="397.0" r="2.35" fill="rgba(128,128,128,0.68)"/>
<circle cx="419.0" cy="399.3" r="2.35" fill="rgba(128,128,128,0.68)"/>
<circle cx="436.7" cy="399.8" r="2.35" fill="rgba(128,128,128,0.68)"/>
<circle cx="439.8" cy="399.8" r="2.35" fill="rgba(128,128,128,0.68)"/>
<circle cx="440.9" cy="403.2" r="2.35" fill="rgba(128,128,128,0.68)"/>
<circle cx="426.4" cy="403.6" r="2.35" fill="rgba(128,128,128,0.68)"/>
<circle cx="422.5" cy="406.7" r="2.35" fill="rgba(128,128,128,0.68)"/>
<circle cx="451.7" cy="405.2" r="2.35" fill="rgba(128,128,128,0.68)"/>
<circle cx="453.7" cy="403.3" r="2.35" fill="rgba(128,128,128,0.68)"/>
<circle cx="467.9" cy="405.2" r="2.35" fill="rgba(128,128,128,0.68)"/>
<circle cx="412.0" cy="408.7" r="2.35" fill="rgba(128,128,128,0.68)"/>
<circle cx="431.0" cy="408.0" r="2.35" fill="rgba(128,128,128,0.68)"/>
<circle cx="419.7" cy="411.8" r="2.35" fill="rgba(128,128,128,0.68)"/>
<circle cx="434.4" cy="412.9" r="2.35" fill="rgba(128,128,128,0.68)"/>
<circle cx="448.0" cy="410.6" r="2.35" fill="rgba(128,128,128,0.68)"/>
<circle cx="458.8" cy="411.0" r="2.35" fill="rgba(128,128,128,0.68)"/>
<circle cx="461.4" cy="410.1" r="2.35" fill="rgba(128,128,128,0.68)"/>
<circle cx="466.0" cy="410.1" r="2.35" fill="rgba(128,128,128,0.68)"/>
<circle cx="482.5" cy="409.5" r="2.35" fill="rgba(128,128,128,0.68)"/>
<circle cx="441.8" cy="414.9" r="2.35" fill="rgba(128,128,128,0.68)"/>
<circle cx="437.9" cy="417.5" r="2.35" fill="rgba(128,128,128,0.68)"/>
<circle cx="469.9" cy="416.8" r="2.35" fill="rgba(128,128,128,0.68)"/>
<circle cx="470.6" cy="419.8" r="2.35" fill="rgba(128,128,128,0.68)"/>
<circle cx="476.0" cy="421.9" r="2.35" fill="rgba(128,128,128,0.68)"/>
<circle cx="411.2" cy="423.4" r="2.35" fill="rgba(128,128,128,0.68)"/>
<circle cx="435.2" cy="424.5" r="2.35" fill="rgba(128,128,128,0.68)"/>
<circle cx="446.7" cy="424.5" r="2.35" fill="rgba(128,128,128,0.68)"/>
<circle cx="462.2" cy="424.5" r="2.35" fill="rgba(128,128,128,0.68)"/>
<circle cx="465.2" cy="425.0" r="2.35" fill="rgba(128,128,128,0.68)"/>
<circle cx="453.4" cy="427.8" r="2.35" fill="rgba(128,128,128,0.68)"/>
<circle cx="463.6" cy="427.8" r="2.35" fill="rgba(128,128,128,0.68)"/>
<circle cx="429.3" cy="434.7" r="2.35" fill="rgba(128,128,128,0.68)"/>
<circle cx="449.8" cy="437.9" r="2.35" fill="rgba(128,128,128,0.68)"/>
<circle cx="474.6" cy="450.0" r="2.35" fill="rgba(128,128,128,0.68)"/>
<circle cx="448.9" cy="452.7" r="2.35" fill="rgba(128,128,128,0.68)"/>
<circle cx="488.4" cy="355.4" r="2.35" fill="rgba(128,128,128,0.68)"/>
<circle cx="486.1" cy="390.6" r="2.35" fill="rgba(128,128,128,0.68)"/>
<circle cx="490.4" cy="388.6" r="2.35" fill="rgba(128,128,128,0.68)"/>
<circle cx="493.8" cy="398.6" r="2.35" fill="rgba(128,128,128,0.68)"/>
<circle cx="498.1" cy="401.7" r="2.35" fill="rgba(128,128,128,0.68)"/>
<circle cx="489.4" cy="404.8" r="2.35" fill="rgba(128,128,128,0.68)"/>
<circle cx="492.3" cy="410.2" r="2.35" fill="rgba(128,128,128,0.68)"/>
<circle cx="498.5" cy="409.9" r="2.35" fill="rgba(128,128,128,0.68)"/>
<circle cx="486.6" cy="416.1" r="2.35" fill="rgba(128,128,128,0.68)"/>
<circle cx="498.1" cy="419.0" r="2.35" fill="rgba(128,128,128,0.68)"/>
<circle cx="513.3" cy="401.0" r="2.35" fill="rgba(128,128,128,0.68)"/>
<circle cx="517.0" cy="401.7" r="2.35" fill="rgba(128,128,128,0.68)"/>
<circle cx="529.8" cy="399.4" r="2.35" fill="rgba(128,128,128,0.68)"/>
<circle cx="531.3" cy="397.9" r="2.35" fill="rgba(128,128,128,0.68)"/>
<circle cx="522.4" cy="410.2" r="2.35" fill="rgba(128,128,128,0.68)"/>
<circle cx="519.4" cy="415.3" r="2.35" fill="rgba(128,128,128,0.68)"/>
<circle cx="557.6" cy="404.8" r="2.35" fill="rgba(128,128,128,0.68)"/>
<circle cx="550.2" cy="414.4" r="2.35" fill="rgba(128,128,128,0.68)"/>
<circle cx="494.6" cy="421.2" r="2.35" fill="rgba(128,128,128,0.68)"/>
<circle cx="523.5" cy="420.4" r="2.35" fill="rgba(128,128,128,0.68)"/>
<circle cx="520.6" cy="424.8" r="2.35" fill="rgba(128,128,128,0.68)"/>
<circle cx="517.2" cy="438.7" r="2.35" fill="rgba(128,128,128,0.68)"/>
<circle cx="557.8" cy="427.7" r="2.35" fill="rgba(128,128,128,0.68)"/>
<circle cx="545.3" cy="432.1" r="2.35" fill="rgba(128,128,128,0.68)"/>
<circle cx="545.7" cy="436.8" r="2.35" fill="rgba(128,128,128,0.68)"/>
<circle cx="575.3" cy="429.9" r="2.35" fill="rgba(128,128,128,0.68)"/>
<circle cx="576.8" cy="443.1" r="2.35" fill="rgba(128,128,128,0.68)"/>
<circle cx="533.6" cy="467.2" r="2.35" fill="rgba(128,128,128,0.68)"/>
<circle cx="612.2" cy="406.4" r="2.35" fill="rgba(128,128,128,0.68)"/>
<circle cx="608.3" cy="426.6" r="2.35" fill="rgba(128,128,128,0.68)"/>
<circle cx="620.3" cy="431.8" r="2.35" fill="rgba(128,128,128,0.68)"/>
<line x1="398.10" y1="351.90" x2="620.50" y2="466.50" stroke="#ff6a6a" stroke-width="1.1" />
<line x1="398.10" y1="279.90" x2="620.50" y2="444.20" stroke="#ff6a6a" stroke-width="1.0" stroke-dasharray="3.5 3.4"/>
<line x1="398.20" y1="423.80" x2="620.50" y2="489.10" stroke="#ff6a6a" stroke-width="1.0" stroke-dasharray="3.5 3.4"/>
<rect x="379.3" y="271.4" width="304.99999999999994" height="224.90000000000003" fill="none" stroke="#b4b4b4" stroke-width="1.1"/>
<line x1="377.50" y1="292.10" x2="379.30" y2="292.10" stroke="#444" stroke-width="0.8" />
<text x="376.40" y="294.40" font-size="6.6" text-anchor="end" font-weight="normal" fill="#2a2a2a" >150</text>
<line x1="377.50" y1="322.50" x2="379.30" y2="322.50" stroke="#444" stroke-width="0.8" />
<text x="376.40" y="324.80" font-size="6.6" text-anchor="end" font-weight="normal" fill="#2a2a2a" >100</text>
<line x1="377.50" y1="352.90" x2="379.30" y2="352.90" stroke="#444" stroke-width="0.8" />
<text x="376.40" y="355.20" font-size="6.6" text-anchor="end" font-weight="normal" fill="#2a2a2a" >50</text>
<line x1="377.50" y1="383.30" x2="379.30" y2="383.30" stroke="#444" stroke-width="0.8" />
<text x="376.40" y="385.60" font-size="6.6" text-anchor="end" font-weight="normal" fill="#2a2a2a" >0</text>
<line x1="377.50" y1="413.70" x2="379.30" y2="413.70" stroke="#444" stroke-width="0.8" />
<text x="376.40" y="416.00" font-size="6.6" text-anchor="end" font-weight="normal" fill="#2a2a2a" >-50</text>
<line x1="377.50" y1="444.10" x2="379.30" y2="444.10" stroke="#444" stroke-width="0.8" />
<text x="376.40" y="446.40" font-size="6.6" text-anchor="end" font-weight="normal" fill="#2a2a2a" >-100</text>
<line x1="377.50" y1="474.50" x2="379.30" y2="474.50" stroke="#444" stroke-width="0.8" />
<text x="376.40" y="476.80" font-size="6.6" text-anchor="end" font-weight="normal" fill="#2a2a2a" >-150</text>
<line x1="383.40" y1="496.30" x2="383.40" y2="498.10" stroke="#444" stroke-width="0.8" />
<text x="383.40" y="504.90" font-size="6.6" text-anchor="middle" font-weight="normal" fill="#2a2a2a" >0</text>
<line x1="442.68" y1="496.30" x2="442.68" y2="498.10" stroke="#444" stroke-width="0.8" />
<text x="442.68" y="504.90" font-size="6.6" text-anchor="middle" font-weight="normal" fill="#2a2a2a" >30</text>
<line x1="501.96" y1="496.30" x2="501.96" y2="498.10" stroke="#444" stroke-width="0.8" />
<text x="501.96" y="504.90" font-size="6.6" text-anchor="middle" font-weight="normal" fill="#2a2a2a" >60</text>
<line x1="561.24" y1="496.30" x2="561.24" y2="498.10" stroke="#444" stroke-width="0.8" />
<text x="561.24" y="504.90" font-size="6.6" text-anchor="middle" font-weight="normal" fill="#2a2a2a" >90</text>
<line x1="620.52" y1="496.30" x2="620.52" y2="498.10" stroke="#444" stroke-width="0.8" />
<text x="620.52" y="504.90" font-size="6.6" text-anchor="middle" font-weight="normal" fill="#2a2a2a" >120</text>
<text x="625.40" y="308.39" font-size="7.9" text-anchor="start" font-weight="normal" fill="#111" textLength="54" lengthAdjust="spacingAndGlyphs" >+1.96s : 127.82</text>
<text x="634.10" y="383.90" font-size="7.9" text-anchor="start" font-weight="normal" fill="#6495ed" textLength="37.9" lengthAdjust="spacingAndGlyphs" >Bias : 3.90</text>
<text x="626.20" y="458.50" font-size="7.9" text-anchor="start" font-weight="normal" fill="#111" textLength="55.7" lengthAdjust="spacingAndGlyphs" >-1.96s : -120.03</text>
<text x="619.60" y="477.00" font-size="8.5" text-anchor="start" font-weight="normal" fill="#ff6a6a" textLength="63.1" lengthAdjust="spacingAndGlyphs" >y = 64.67 - 1.68x</text>
<text x="358.6" y="383.3" font-size="9.0" font-weight="bold" text-anchor="middle" transform="rotate(-90 358.6 383.3)">Difference/mean between eGFR (%)</text>
<text x="531.7" y="516.1" font-size="8.2" font-weight="bold" text-anchor="middle">Mean of eGFR (ml/min/1.73 m<tspan dy="-3.7" font-size="6.4" font-weight="normal">2</tspan><tspan dy="3.7" font-weight="normal"> )</tspan></text>
<text x="350.90" y="274.70" font-size="13.6" text-anchor="start" font-weight="bold" fill="#000" >d</text>
</g>
</svg>
</body></html>
